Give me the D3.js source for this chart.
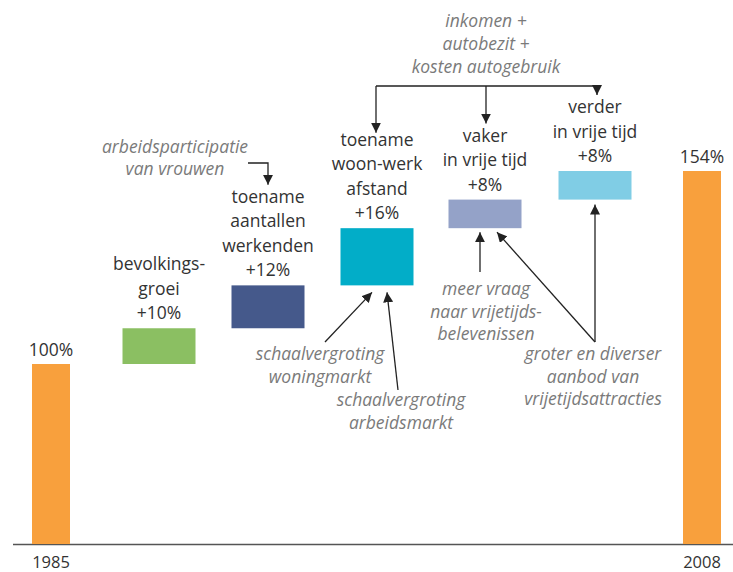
<!DOCTYPE html>
<html><head><meta charset="utf-8">
<script src="https://cdn.jsdelivr.net/npm/d3@7"></script>
<style>
html,body{margin:0;padding:0;background:#fff;}
svg{display:block;}
text{font-family:"Open Sans",sans-serif;}
</style></head>
<body>
<div id="chart"></div>
<script>
// ---- data ----
const categories = ["1985","bevolkingsgroei","werkenden","woon-werk","vaker","verder","2008"];
const kinds      = ["total","step","step","step","step","step","total"];
const values     = [100, 10, 12, 16, 8, 8, 154];
const valueLabels = ["100%","+10%","+12%","+16%","+8%","+8%","154%"];
const captions = [
  [],
  ["bevolkings-","groei"],
  ["toename","aantallen","werkenden"],
  ["toename","woon-werk","afstand"],
  ["vaker","in vrije tijd"],
  ["verder","in vrije tijd"],
  []
];
const yearLabels = ["1985","","","","","","2008"];
const colors = ["#f8a03d","#8bbf62","#45598b","#02adc8","#94a2c8","#80cde5","#f8a03d"];
const notes = [
  {lines:["arbeidsparticipatie","van vrouwen"], x:175, y:153, lh:22},
  {lines:["inkomen +","autobezit +","kosten autogebruik"], x:486, y:27, lh:23},
  {lines:["schaalvergroting","woningmarkt"], x:320, y:360, lh:22.5},
  {lines:["schaalvergroting","arbeidsmarkt"], x:401, y:406, lh:22.5},
  {lines:["meer vraag","naar vrijetijds-","belevenissen"], x:486, y:295, lh:22.5},
  {lines:["groter en diverser","aanbod van","vrijetijdsattracties"], x:593, y:360, lh:22.5}
];

// ---- layout ----
const W = 733, H = 572;
const svg = d3.select("#chart").append("svg").attr("width",W).attr("height",H);

// schematic (broken) value axis
const y = d3.scaleLinear().domain([0,100,154]).range([544,364,171]);
const xCenters = {"1985":51,"bevolkingsgroei":159,"werkenden":268,"woon-werk":377,"vaker":485,"verder":595,"2008":702};
const x = d3.scaleOrdinal().domain(categories).range(categories.map(c=>xCenters[c]));
const wTotal = 38, wStep = 73;

let cum = 0;
const bars = categories.map((c,i)=>{
  let y0,y1;
  if(kinds[i]==="total"){ y0=0; y1=values[i]; cum=values[i]; }
  else { y0=cum; y1=cum+values[i]; cum=y1; }
  return {c,i,y0,y1};
});
const byCat = Object.fromEntries(bars.map(b=>[b.c,b]));

// axis line
svg.append("line").attr("x1",13).attr("x2",W).attr("y1",y(0)+0.5).attr("y2",y(0)+0.5)
  .attr("stroke","#555").attr("stroke-width",1.3);

svg.selectAll("rect.bar").data(bars).enter().append("rect")
  .attr("class","bar")
  .attr("x",d=>x(d.c)-(kinds[d.i]==="total"?wTotal:wStep)/2)
  .attr("width",d=>kinds[d.i]==="total"?wTotal:wStep)
  .attr("y",d=>y(d.y1))
  .attr("height",d=>y(d.y0)-y(d.y1))
  .attr("fill",d=>colors[d.i]);

const lh = 24.5;
bars.forEach(d=>{
  svg.append("text").attr("text-anchor","middle").attr("fill","#333")
    .attr("font-size",17.5).attr("x",x(d.c)).attr("y",y(d.y1)-(kinds[d.i]==="total"?8:9))
    .text(valueLabels[d.i]);
  const cap = captions[d.i];
  cap.forEach((t,k)=>{
    svg.append("text").attr("text-anchor","middle").attr("fill","#333").attr("font-size",17.5)
      .attr("x",x(d.c)).attr("y",y(d.y1)-9-(cap.length-k)*lh).text(t);
  });
  if(yearLabels[d.i]){
    svg.append("text").attr("text-anchor","middle").attr("fill","#333").attr("font-size",16.5)
      .attr("x",x(d.c)).attr("y",568).text(yearLabels[d.i]);
  }
});

notes.forEach(n=>{
  n.lines.forEach((t,k)=>{
    svg.append("text").attr("text-anchor","middle").attr("fill","#7a7a7a")
      .attr("font-style","italic").attr("font-size",17.5)
      .attr("x",n.x).attr("y",n.y+k*n.lh).text(t);
  });
});

// arrows
const defs = svg.append("defs");
defs.append("marker").attr("id","ah").attr("viewBox","0 0 10 10").attr("refX",10).attr("refY",5)
  .attr("markerWidth",10).attr("markerHeight",10).attr("markerUnits","userSpaceOnUse").attr("orient","auto")
  .append("path").attr("d","M0,0 L10,5 L0,10 Z").attr("fill","#222");
const line = d3.line();
const bottomOf = c => y(byCat[c].y0);
const topOf = c => y(byCat[c].y1);
const arrows = [
  [[248,163],[268,163],[268,topOf("werkenden")-9-3*lh-18]],
  [[376,86],[376,topOf("woon-werk")-9-3*lh-13]],
  [[376,86],[597,86],[597,topOf("verder")-9-2*lh-18]],
  [[486,86],[486,topOf("vaker")-9-2*lh-18]],
  [[325,342],[372,bottomOf("woon-werk")+7]],
  [[398,390],[387,bottomOf("woon-werk")+7]],
  [[480,272],[480,bottomOf("vaker")+4]],
  [[595,342],[497,bottomOf("vaker")+4]],
  [[595,342],[595,bottomOf("verder")+5]]
];
arrows.forEach(p=>{
  svg.append("path").attr("d",line(p)).attr("fill","none").attr("stroke","#222")
    .attr("stroke-width",1.3).attr("marker-end","url(#ah)");
});
</script>
</body></html>
